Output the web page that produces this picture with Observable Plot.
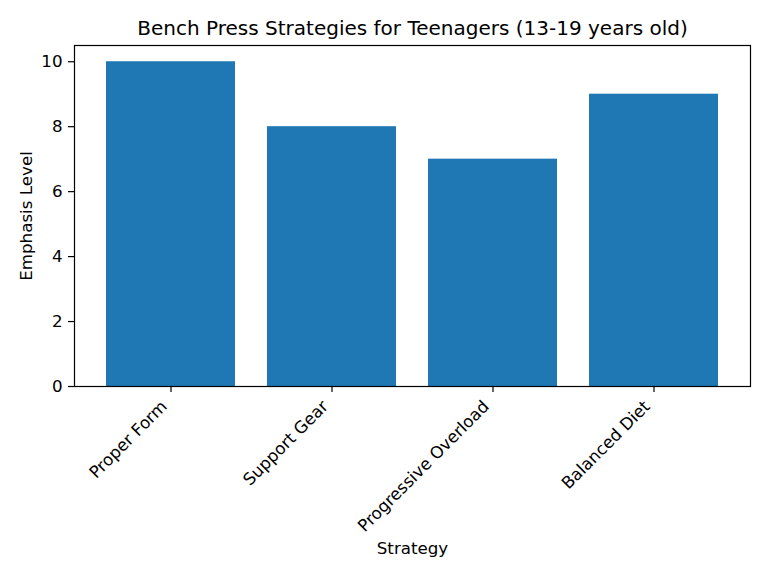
<!DOCTYPE html>
<html>
<head>
<meta charset="utf-8">
<script src="https://cdn.jsdelivr.net/npm/d3@7"></script>
<script src="https://cdn.jsdelivr.net/npm/@observablehq/plot@0.6"></script>
<style>
body{margin:0;background:#fff;}
svg{font-family:"DejaVu Sans",sans-serif;}
</style>
</head>
<body>
<div id="chart"></div>
<script>
const categories = ["Proper Form", "Support Gear", "Progressive Overload", "Balanced Diet"];
const values = [10, 8, 7, 9];
const yTicks = [0, 2, 4, 6, 8, 10];
const titleText = "Bench Press Strategies for Teenagers (13-19 years old)";
const xLabel = "Strategy";
const yLabel = "Emphasis Level";

const data = categories.map((c, i) => ({category: c, value: values[i]}));

const chart = Plot.plot({
  width: 768,
  height: 576,
  marginLeft: 74,
  marginRight: 18,
  marginTop: 45,
  marginBottom: 190,
  style: {fontFamily: "DejaVu Sans, sans-serif", fontSize: "16.7px", color: "#000", background: "#fff"},
  x: {domain: categories, paddingInner: 0.2, paddingOuter: 0.19, label: null},
  y: {domain: [0, 10.5], label: null},
  marks: [
    Plot.barY(data, {x: "category", y: "value", fill: "#1f77b4"}),
    Plot.frame({stroke: "#000", strokeWidth: 1.2}),
    Plot.axisY({ticks: yTicks, tickSize: 6, tickPadding: 6, fontSize: 16.7, label: null, stroke: "#000", strokeWidth: 1.2}),
    Plot.axisX({tickSize: 6, tickFormat: () => "", label: null, stroke: "#000", strokeWidth: 1.2}),
    Plot.text(categories, {x: d => d, frameAnchor: "bottom", rotate: -45, textAnchor: "end", lineAnchor: "bottom", dx: -3, dy: 21, fontSize: 16.7, text: d => d}),
    Plot.text([titleText], {frameAnchor: "top", lineAnchor: "middle", dy: -17, fontSize: 20, text: d => d}),
    Plot.text([xLabel], {frameAnchor: "bottom", lineAnchor: "middle", dy: 162, fontSize: 16.7, text: d => d}),
    Plot.text([yLabel], {frameAnchor: "left", textAnchor: "middle", lineAnchor: "middle", dx: -48, rotate: -90, fontSize: 16.7, text: d => d})
  ]
});
document.getElementById("chart").appendChild(chart);
</script>
</body>
</html>
